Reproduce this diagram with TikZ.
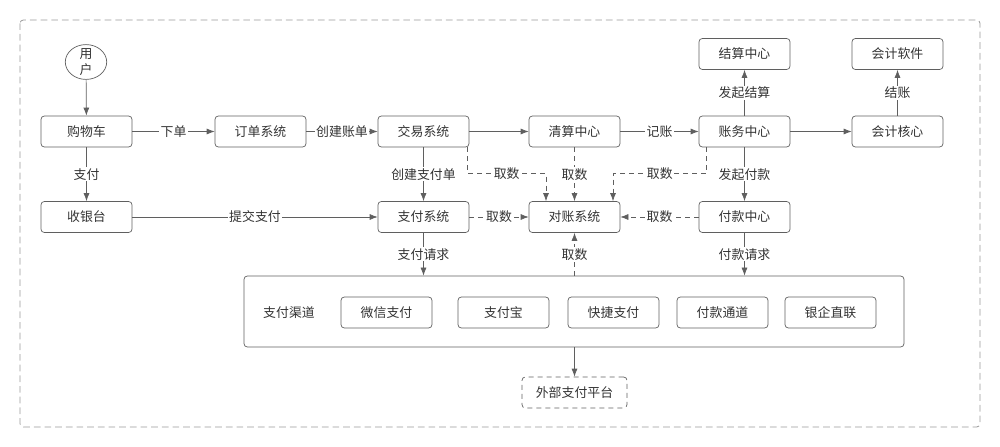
\documentclass[tikz,border=0pt]{standalone}
\usepackage{fontspec}
\setmainfont{Noto Sans CJK SC}
\usepackage{tikz}
\usetikzlibrary{arrows.meta,shapes.geometric}
\definecolor{linegray}{HTML}{5F5F5F}
\definecolor{framegray}{HTML}{9A9A9A}
\definecolor{textgray}{HTML}{333333}

\begin{document}
\begin{tikzpicture}[x=0.3mm, y=-0.3mm,
    font=\fontsize{11}{13.6}\selectfont, text=textgray,
    sys/.style={draw=linegray, rounded corners=1mm, minimum width=27.3mm,
      minimum height=9.3mm, inner sep=0pt, line width=0.6pt},
    flow/.style={-{Latex[length=2.4mm,width=1.8mm]}, draw=linegray, line width=0.6pt},
    fetch/.style={flow, dash pattern=on 1.5mm off 1.2mm},
    lbl/.style={fill=white, inner sep=1pt}]
    \useasboundingbox (0,0) rectangle (1000,447);
    \draw[framegray, dash pattern=on 2mm off 1.2mm, rounded corners=1mm, line width=0.7pt]
      (20,20) rectangle (980,427);

    \node[draw=linegray, ellipse, line width=0.6pt, align=center,
      inner xsep=7pt, inner ysep=-1pt] (user) at (86,62) {用\\户};
    \node[sys] (cart) at (86.5,131.5) {购物车};
    \node[sys] (order) at (260.5,131.5) {订单系统};
    \node[sys] (trade) at (423.5,131.5) {交易系统};
    \node[sys] (clear) at (574.5,131.5) {清算中心};
    \node[sys] (ledger) at (744.5,131.5) {账务中心};
    \node[sys] (acctcore) at (897.5,131.5) {会计核心};
    \node[sys] (settle) at (744.5,54) {结算中心};
    \node[sys] (acctsoft) at (897.5,54) {会计软件};
    \node[sys] (cashier) at (86.5,217) {收银台};
    \node[sys] (pay) at (423.5,217) {支付系统};
    \node[sys] (recon) at (574.5,217) {对账系统};
    \node[sys] (payout) at (744.5,217) {付款中心};

    \node[sys, minimum width=198mm, minimum height=21.3mm] (channel) at (574,311.5) {};
    \node (chanlbl) at (289,313) {支付渠道};
    \node[sys] (wechat) at (386.5,312.5) {微信支付};
    \node[sys] (alipay) at (503.5,312.5) {支付宝};
    \node[sys] (quick) at (613.5,312.5) {快捷支付};
    \node[sys] (paychan) at (722.5,312.5) {付款通道};
    \node[sys] (bankdirect) at (830.5,312.5) {银企直联};
    \node[sys, dash pattern=on 1.5mm off 1.2mm, minimum width=31.5mm] (ext) at (574.5,392.5) {外部支付平台};

    \draw[flow] (user) -- (cart);
    \draw[flow] (cart) -- node[lbl] {下单} (order);
    \draw[flow] (order) -- node[lbl] {创建账单} (trade);
    \draw[flow] (trade) -- (clear);
    \draw[flow] (clear) -- node[lbl] {记账} (ledger);
    \draw[flow] (ledger) -- (acctcore);
    \draw[flow] (ledger) -- node[lbl] {发起结算} (settle);
    \draw[flow] (acctcore) -- node[lbl] {结账} (acctsoft);
    \draw[flow] (cart) -- node[lbl] {支付} (cashier);
    \draw[flow] (cashier) -- node[lbl] {提交支付} (pay);
    \draw[flow] (trade) -- node[lbl] {创建支付单} (pay);
    \draw[flow] (ledger) -- node[lbl] {发起付款} (payout);
    \draw[fetch] (pay) -- node[lbl] {取数} (recon);
    \draw[fetch] (payout) -- node[lbl] {取数} (recon);
    \draw[fetch] (clear) -- node[lbl] {取数} (recon);
    \draw[fetch] ([shift={(-2,0)}]trade.south east) -- ++(0,26)
      -| node[lbl, pos=0.25] {取数} ([shift={(-28.5,0)}]recon.north);
    \draw[fetch] ([shift={(8,0)}]ledger.south west) -- ++(0,26)
      -| node[lbl, pos=0.25] {取数} ([shift={(38.5,0)}]recon.north);
    \draw[flow] (pay) -- node[lbl] {支付请求} (pay |- channel.north);
    \draw[flow] (payout) -- node[lbl] {付款请求} (payout |- channel.north);
    \draw[fetch] (recon |- channel.north) -- node[lbl] {取数} (recon);
    \draw[flow] (recon |- channel.south) -- (ext);
\end{tikzpicture}
\end{document}
